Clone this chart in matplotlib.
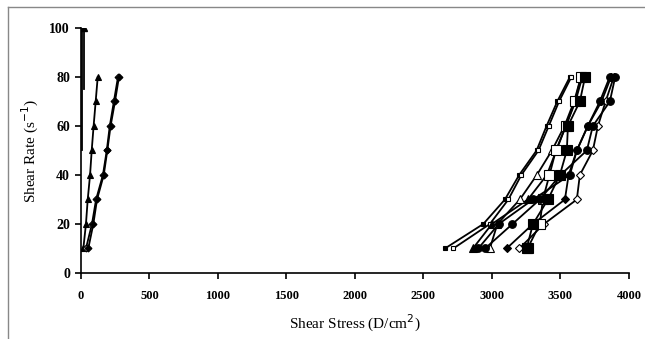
import matplotlib
matplotlib.use("Agg")
import matplotlib.pyplot as plt
from matplotlib.lines import Line2D

plt.rcParams['font.family'] = ['Liberation Serif', 'DejaVu Serif']

shear_rate = [10, 20, 30, 40, 50, 60, 70, 80]

# Left cluster (low stress)
left_tri = [17, 36, 49, 66, 78, 92, 107, 122]
left_dia_f = [53, 90, 117, 166, 192, 216, 248, 277]
left_dia_o = [36, 80, 110, 160, 188, 210, 240, 270]
vert1_rate = [50, 100]
vert1_stress = [5, 5]
vert2_rate = [75, 100]
vert2_stress = [24, 24]

# Right cluster (high stress)
r_sq_small_f = [2657, 2937, 3095, 3199, 3326, 3399, 3477, 3569]
r_sq_small_o = [2718, 2985, 3120, 3215, 3340, 3415, 3490, 3580]
r_tri_f = [2861, 3000, 3263, 3401, 3470, 3540, 3610, 3660]
r_tri_o = [2985, 3040, 3204, 3328, 3438, 3530, 3600, 3650]
r_dia_f = [3107, 3300, 3533, 3560, 3620, 3700, 3800, 3870]
r_dia_o = [3200, 3380, 3620, 3642, 3737, 3774, 3830, 3890]
r_sq_big_f = [3253, 3300, 3409, 3496, 3547, 3555, 3642, 3680]
r_sq_big_o = [3260, 3350, 3372, 3420, 3467, 3540, 3606, 3650]
r_circ_1 = [2900, 3050, 3300, 3569, 3620, 3700, 3788, 3860]
r_circ_2 = [2950, 3150, 3350, 3500, 3693, 3737, 3861, 3900]

x_ticks = [0, 500, 1000, 1500, 2000, 2500, 3000, 3500, 4000]
y_ticks = [0, 20, 40, 60, 80, 100]

fig = plt.figure(figsize=(6.45, 3.39), dpi=100)
ax = fig.add_axes([0.1256, 0.1947, 0.8494, 0.7227])

lw = 1.3
def plot(xs, ys, marker, filled=True, ms=4):
    ax.plot(xs, ys, color='black', lw=lw, marker=marker, ms=ms,
            mfc='black' if filled else 'white', mec='black', mew=0.8)

plot(left_tri, shear_rate, '^', True, 4)
plot(left_dia_o, shear_rate, 'D', False, 3.5)
plot(left_dia_f, shear_rate, 'D', True, 3.5)
ax.plot(vert1_stress, vert1_rate, color='black', lw=lw)
ax.plot(vert2_stress, vert2_rate, color='black', lw=lw, marker='^', ms=4,
        markevery=[1])

plot(r_sq_small_f, shear_rate, 's', True, 3.5)
plot(r_sq_small_o, shear_rate, 's', False, 3.5)
plot(r_tri_f, shear_rate, '^', True, 6)
plot(r_tri_o, shear_rate, '^', False, 6)
plot(r_dia_f, shear_rate, 'D', True, 4.5)
plot(r_dia_o, shear_rate, 'D', False, 4.5)
plot(r_sq_big_o, shear_rate, 's', False, 7)
plot(r_sq_big_f, shear_rate, 's', True, 7)
plot(r_circ_1, shear_rate, 'o', True, 5.5)
plot(r_circ_2, shear_rate, 'o', True, 5.5)

ax.set_xlim(0, 4000)
ax.set_ylim(0, 100)
ax.set_xticks(x_ticks)
ax.set_yticks(y_ticks)
for s in ['top', 'right']:
    ax.spines[s].set_visible(False)
for s in ['left', 'bottom']:
    ax.spines[s].set_linewidth(1.2)
ax.tick_params(direction='out', length=4, width=1.2)
ax.tick_params(axis='x', pad=8, labelsize=9)
ax.tick_params(axis='y', pad=4, labelsize=10)
for lab in ax.get_xticklabels() + ax.get_yticklabels():
    lab.set_fontweight('bold')
ax.set_xlabel('Shear Stress (D/cm$^{2}$)', fontsize=11, labelpad=8)
ax.set_ylabel('Shear Rate (s$^{-1}$)', fontsize=11, labelpad=6)

# figure frame lines (top and left)
fig.add_artist(Line2D([8/645, 8/645], [0, 1 - 7/339], transform=fig.transFigure,
                      color='#888888', lw=1))
fig.add_artist(Line2D([8/645, 1], [1 - 7/339, 1 - 7/339], transform=fig.transFigure,
                      color='#888888', lw=1))

fig.savefig('out.png', dpi=100)
